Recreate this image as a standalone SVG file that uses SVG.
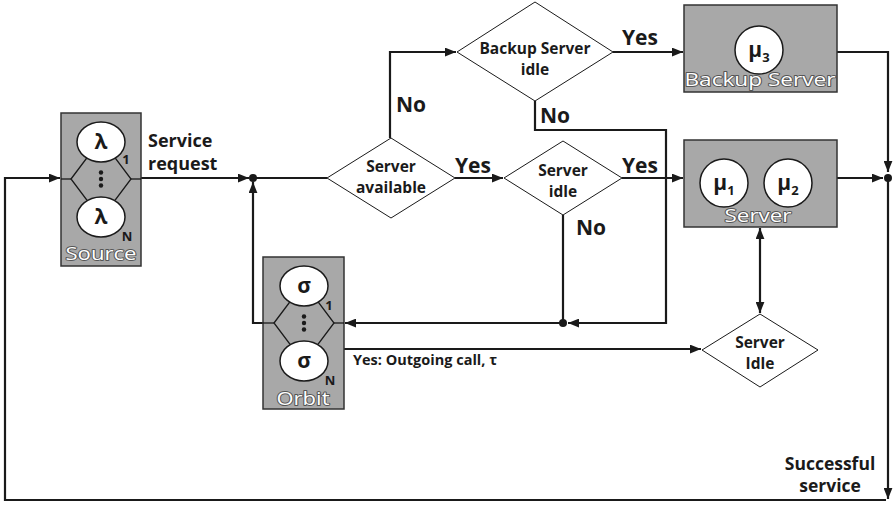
<svg xmlns="http://www.w3.org/2000/svg" width="896" height="507" viewBox="0 0 896 507">
  <defs>
    <marker id="arrow" viewBox="0 0 10 8" refX="10" refY="4" markerWidth="11" markerHeight="9" markerUnits="userSpaceOnUse" orient="auto-start-reverse">
      <path d="M0,0 L10,4 L0,8 Z" fill="#1a1a1a"/>
    </marker>
    <style>
      .box { fill: #a8a8a8; stroke: #333; stroke-width: 1.5; }
      .circ { fill: #fff; stroke: #1a1a1a; stroke-width: 1.5; }
      .dia { fill: #fff; stroke: #1a1a1a; stroke-width: 1; }
      .inner { fill: none; stroke: #1a1a1a; stroke-width: 1.3; }
      .wire { fill: none; stroke: #1a1a1a; stroke-width: 2.2; }
      .dot { fill: #1a1a1a; }
      text { font-family: "Open Sans", "Noto Sans", "DejaVu Sans", sans-serif; fill: #1a1a1a; }
      .lbl { font-weight: 700; font-size: 18px; }
      .big { font-weight: 700; font-size: 21px; }
      .dtx { font-weight: 700; font-size: 15.5px; text-anchor: middle; }
      .sym { font-weight: 700; font-size: 21px; text-anchor: middle; }
      .idx { font-weight: 700; font-size: 13px; }
      .cap { font-size: 18px; text-anchor: middle; fill: #ffffff; stroke: #555; stroke-width: 1.8; paint-order: stroke; stroke-linejoin: round; }
    </style>
  </defs>

  <!-- connectors -->
  <g id="connectors">
    <path class="wire" d="M886,500 H5 V178 H60" marker-end="url(#arrow)"/>
    <path class="wire" d="M888,177 V499" marker-end="url(#arrow)"/>
    <path class="wire" d="M141,178 H249" marker-end="url(#arrow)"/>
    <path class="wire" d="M253,178 H327"/>
    <path class="wire" d="M263,323 H253 V182" marker-end="url(#arrow)"/>
    <path class="wire" d="M390,138 V52 H456" marker-end="url(#arrow)"/>
    <path class="wire" d="M455,178 H503" marker-end="url(#arrow)"/>
    <path class="wire" d="M622,178 H683" marker-end="url(#arrow)"/>
    <path class="wire" d="M613,52 H683" marker-end="url(#arrow)"/>
    <path class="wire" d="M535,101 V130 H666 V323 H568" marker-end="url(#arrow)"/>
    <path class="wire" d="M563,215 V323"/>
    <path class="wire" d="M563,323 H345" marker-end="url(#arrow)"/>
    <path class="wire" d="M344,349 H701" marker-end="url(#arrow)"/>
    <path class="wire" d="M760,228 V313" marker-start="url(#arrow)" marker-end="url(#arrow)"/>
    <path class="wire" d="M837,52 H888 V172" marker-end="url(#arrow)"/>
    <path class="wire" d="M837,178 H883" marker-end="url(#arrow)"/>
    <circle class="dot" cx="253" cy="178" r="4"/>
    <circle class="dot" cx="563" cy="323" r="4"/>
    <circle class="dot" cx="888" cy="178" r="4"/>

    <text class="lbl" x="148" y="147">Service</text>
    <text class="lbl" x="148" y="170">request</text>
    <text class="big" x="396" y="112">No</text>
    <text class="big" x="455" y="173">Yes</text>
    <text class="big" x="622" y="173">Yes</text>
    <text class="big" x="622" y="45">Yes</text>
    <text class="big" x="540" y="123">No</text>
    <text class="big" x="576" y="235">No</text>
    <text x="353" y="365" font-weight="700" font-size="14.5">Yes: Outgoing call, τ</text>
    <text x="830" y="470" font-weight="700" font-size="17.5" text-anchor="middle">Successful</text>
    <text x="830" y="492" font-weight="700" font-size="17.5" text-anchor="middle">service</text>
  </g>

  <!-- source pool -->
  <g id="source">
    <rect class="box" x="61" y="113" width="80" height="153"/>
    <line class="inner" x1="61" y1="179" x2="71" y2="179"/>
    <line class="inner" x1="131" y1="179" x2="141" y2="179"/>
    <polygon class="inner" points="71,179 101,139 131,179 101,219"/>
    <ellipse class="circ" cx="101" cy="142" rx="24" ry="20"/>
    <ellipse class="circ" cx="101" cy="217" rx="24" ry="20"/>
    <circle class="dot" cx="101" cy="172.5" r="2.2"/>
    <circle class="dot" cx="101" cy="179" r="2.2"/>
    <circle class="dot" cx="101" cy="185.5" r="2.2"/>
    <text class="sym" x="101" y="149">λ</text>
    <text class="sym" x="101" y="224">λ</text>
    <text class="idx" x="126" y="164" text-anchor="middle">1</text>
    <text class="idx" x="127" y="241" text-anchor="middle">N</text>
    <text class="cap" x="101" y="260" textLength="71" lengthAdjust="spacingAndGlyphs">Source</text>
  </g>

  <!-- orbit pool -->
  <g id="orbit">
    <rect class="box" x="263" y="257" width="81" height="152"/>
    <line class="inner" x1="263" y1="323" x2="274" y2="323"/>
    <line class="inner" x1="334" y1="323" x2="344" y2="323"/>
    <polygon class="inner" points="274,323 304,283 334,323 304,363"/>
    <ellipse class="circ" cx="304" cy="286" rx="24" ry="20"/>
    <ellipse class="circ" cx="304" cy="361" rx="24" ry="20"/>
    <circle class="dot" cx="304" cy="316.5" r="2.2"/>
    <circle class="dot" cx="304" cy="323" r="2.2"/>
    <circle class="dot" cx="304" cy="329.5" r="2.2"/>
    <text class="sym" x="304" y="293">σ</text>
    <text class="sym" x="304" y="368">σ</text>
    <text class="idx" x="329" y="310" text-anchor="middle">1</text>
    <text class="idx" x="330" y="385" text-anchor="middle">N</text>
    <text class="cap" x="303" y="405" textLength="53" lengthAdjust="spacingAndGlyphs">Orbit</text>
  </g>

  <!-- decision: server available -->
  <g id="server-available">
    <polygon class="dia" points="327,178 391,138 455,178 391,218"/>
    <text class="dtx" x="391" y="172">Server</text>
    <text class="dtx" x="391" y="193">available</text>
  </g>

  <!-- decision: backup server idle -->
  <g id="backup-idle">
    <polygon class="dia" points="457,52 535,2 613,52 535,101"/>
    <text class="dtx" x="535" y="54">Backup Server</text>
    <text class="dtx" x="535" y="75">idle</text>
  </g>

  <!-- decision: server idle -->
  <g id="server-idle">
    <polygon class="dia" points="504,178 563,141 622,178 563,215"/>
    <text class="dtx" x="563" y="176">Server</text>
    <text class="dtx" x="563" y="197">idle</text>
  </g>

  <!-- decision: server idle (outgoing) -->
  <g id="server-idle-out">
    <polygon class="dia" points="702,350 760,314 818,350 760,387"/>
    <text class="dtx" x="760" y="348">Server</text>
    <text class="dtx" x="760" y="369">Idle</text>
  </g>

  <!-- backup server -->
  <g id="backup-server">
    <rect class="box" x="684" y="5" width="153" height="87"/>
    <circle class="circ" cx="759" cy="50" r="24"/>
    <text class="sym" x="759" y="57">μ<tspan class="idx" dy="5">3</tspan></text>
    <text class="cap" x="760" y="86" textLength="151" lengthAdjust="spacingAndGlyphs">Backup Server</text>
  </g>

  <!-- main server -->
  <g id="server">
    <rect class="box" x="684" y="140" width="153" height="87"/>
    <circle class="circ" cx="724" cy="183" r="24"/>
    <circle class="circ" cx="788" cy="183" r="24"/>
    <text class="sym" x="724" y="190">μ<tspan class="idx" dy="5">1</tspan></text>
    <text class="sym" x="788" y="190">μ<tspan class="idx" dy="5">2</tspan></text>
    <text class="cap" x="758" y="222" textLength="67" lengthAdjust="spacingAndGlyphs">Server</text>
  </g>
</svg>
